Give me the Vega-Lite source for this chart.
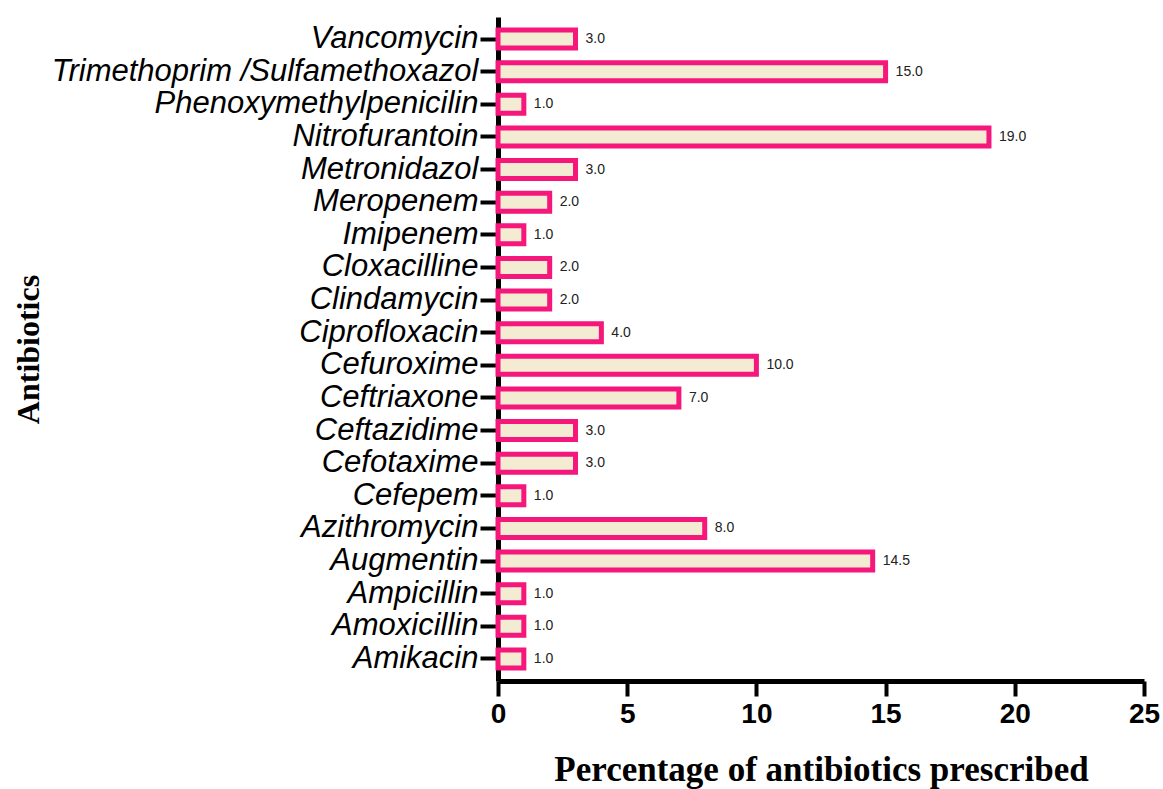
{
  "$schema": "https://vega.github.io/schema/vega-lite/v6.json",
  "autosize": {"type": "none"},
  "padding": {"left": 498, "top": 17, "right": 19, "bottom": 108},
  "width": 646,
  "height": 664,
  "background": "white",
  "config": {"view": {"stroke": null}},
  "data": {
    "values": [
      {"antibiotic": "Vancomycin", "pct": 3.0},
      {"antibiotic": "Trimethoprim /Sulfamethoxazol", "pct": 15.0},
      {"antibiotic": "Phenoxymethylpenicilin", "pct": 1.0},
      {"antibiotic": "Nitrofurantoin", "pct": 19.0},
      {"antibiotic": "Metronidazol", "pct": 3.0},
      {"antibiotic": "Meropenem", "pct": 2.0},
      {"antibiotic": "Imipenem", "pct": 1.0},
      {"antibiotic": "Cloxacilline", "pct": 2.0},
      {"antibiotic": "Clindamycin", "pct": 2.0},
      {"antibiotic": "Ciprofloxacin", "pct": 4.0},
      {"antibiotic": "Cefuroxime", "pct": 10.0},
      {"antibiotic": "Ceftriaxone", "pct": 7.0},
      {"antibiotic": "Ceftazidime", "pct": 3.0},
      {"antibiotic": "Cefotaxime", "pct": 3.0},
      {"antibiotic": "Cefepem", "pct": 1.0},
      {"antibiotic": "Azithromycin", "pct": 8.0},
      {"antibiotic": "Augmentin", "pct": 14.5},
      {"antibiotic": "Ampicillin", "pct": 1.0},
      {"antibiotic": "Amoxicillin", "pct": 1.0},
      {"antibiotic": "Amikacin", "pct": 1.0}
    ]
  },
  "encoding": {
    "y": {
      "field": "antibiotic",
      "type": "nominal",
      "sort": null,
      "scale": {"paddingInner": 0.45, "paddingOuter": 0.4},
      "axis": {
        "title": "Antibiotics",
        "titleFont": "Liberation Serif",
        "titleFontSize": 32,
        "titleFontWeight": "bold",
        "titleColor": "black",
        "titleAngle": 270,
        "titleBaseline": "middle",
        "titleX": -470,
        "titleY": 332,
        "labelFont": "Liberation Sans",
        "labelFontStyle": "italic",
        "labelFontSize": 31,
        "labelLimit": 600,
        "labelColor": "black",
        "labelPadding": 2,
        "tickSize": 18,
        "tickWidth": 4,
        "tickColor": "black",
        "domainColor": "black",
        "domainWidth": 5,
        "grid": false
      }
    },
    "x": {
      "field": "pct",
      "type": "quantitative",
      "scale": {"domain": [0, 25], "nice": false},
      "axis": {
        "title": "Percentage of antibiotics prescribed",
        "titleFont": "Liberation Serif",
        "titleFontSize": 35,
        "titleFontWeight": "bold",
        "titleColor": "black",
        "titleBaseline": "alphabetic",
        "titleY": 99,
        "values": [0, 5, 10, 15, 20, 25],
        "format": "d",
        "labelFont": "Liberation Sans",
        "labelFontWeight": "bold",
        "labelFontSize": 28,
        "labelColor": "black",
        "labelPadding": 4,
        "labelFlush": false,
        "tickSize": 15,
        "tickWidth": 4,
        "tickColor": "black",
        "domainColor": "black",
        "domainWidth": 5,
        "grid": false
      }
    }
  },
  "layer": [
    {
      "mark": {"type": "bar", "fill": "#f4ebd3", "stroke": "#f5177b", "strokeWidth": 5}
    },
    {
      "mark": {"type": "text", "align": "left", "baseline": "middle", "dx": 10, "font": "Liberation Sans", "fontSize": 14, "color": "#222222"},
      "encoding": {"text": {"field": "pct", "type": "quantitative", "format": ".1f"}}
    }
  ]
}
